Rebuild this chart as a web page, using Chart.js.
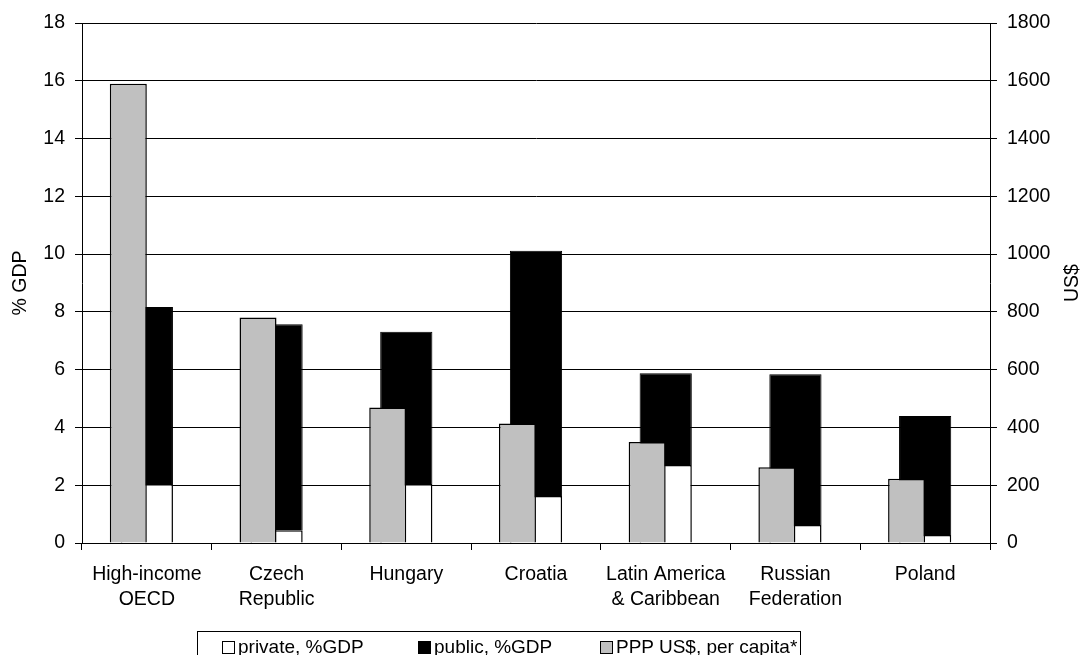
<!DOCTYPE html>
<html>
<head>
<meta charset="utf-8">
<title>Expenditure on health</title>
<script src="https://cdn.jsdelivr.net/npm/chart.js@4.4.0/dist/chart.umd.min.js"></script>
<style>
  html, body { margin: 0; padding: 0; background: #fff; overflow: hidden; }
  #wrap { position: relative; width: 1082px; height: 655px; }
  canvas { display: block; }
  #legend {
    position: absolute; left: 197px; top: 631px; width: 604px; height: 40px;
    border: 1px solid #000; box-sizing: border-box;
    font-family: "Liberation Sans", Arial, sans-serif; font-size: 19px; color: #000;
  }
  .item { position: absolute; top: 5px; height: 20px; line-height: 20px; display: flex; align-items: center; white-space: nowrap; }
  .sw { width: 11px; height: 11px; border: 1px solid #000; margin-right: 3px; }
</style>
</head>
<body>
<div id="wrap">
  <canvas id="chart" width="1082" height="655"></canvas>
  <div id="legend"></div>
</div>
<script>
// Categories (multi-line labels as arrays)
const categories = [
  ['High-income', 'OECD'],
  ['Czech', 'Republic'],
  'Hungary',
  'Croatia',
  ['Latin America', '& Caribbean'],
  ['Russian', 'Federation'],
  'Poland'
];

// Health expenditure, % of GDP
const privateGdp = [2.04, 0.44, 2.04, 1.63, 2.70, 0.62, 0.28];
const publicGdp  = [6.13, 7.13, 5.27, 8.49, 3.18, 5.22, 4.12];

// Health expenditure, PPP US$ per capita
const pppPerCapita = [1590, 781, 469, 414, 350, 262, 222];

// Axis ranges and tick steps
const gdpAxis = { min: 0, max: 18, step: 2 };
const usdAxis = { min: 0, max: 1800, step: 200 };

const FONT = "'Liberation Sans', Arial, sans-serif";
const FONT_SIZE = 19.5;
Chart.defaults.font.family = FONT;
Chart.defaults.font.size = FONT_SIZE;
Chart.defaults.color = '#000';

// The per-capita bars sit to the left of each category centre, on a hidden
// linear axis shifted by this fraction of a category.
const pppShift = 0.143;

// Right-hand axis title, reading bottom-to-top like the left one
const usdTitle = {
  id: 'usdTitle',
  afterDraw(chart) {
    const { ctx, chartArea } = chart;
    const s = chart.scales.y1;
    ctx.save();
    ctx.font = FONT_SIZE + 'px ' + FONT;
    ctx.fillStyle = '#000';
    ctx.translate(s.right - 9, (chartArea.top + chartArea.bottom) / 2);
    ctx.rotate(-Math.PI / 2);
    ctx.textAlign = 'center';
    ctx.textBaseline = 'middle';
    ctx.fillText('US$', 0, 0);
    ctx.restore();
  }
};

const datasets = [
  {
    label: 'private, %GDP',
    data: privateGdp,
    backgroundColor: '#ffffff',
    borderColor: '#000000',
    borderWidth: 1.5,
    xAxisID: 'x', yAxisID: 'y',
    stack: 'gdp', order: 1, grouped: false,
    categoryPercentage: 1, barPercentage: 0.4025
  },
  {
    label: 'public, %GDP',
    data: publicGdp,
    backgroundColor: '#000000',
    borderColor: '#000000',
    borderWidth: 1,
    xAxisID: 'x', yAxisID: 'y',
    stack: 'gdp', order: 1, grouped: false,
    categoryPercentage: 1, barPercentage: 0.4025
  },
  {
    label: 'PPP US$, per capita*',
    data: pppPerCapita.map((v, i) => ({ x: i, y: v })),
    backgroundColor: '#c0c0c0',
    borderColor: '#000000',
    borderWidth: 1.5,
    xAxisID: 'xp', yAxisID: 'y1',
    order: 0, grouped: false,
    categoryPercentage: 1, barPercentage: 0.2853
  }
];

const plainNumber = v => String(v);

new Chart(document.getElementById('chart'), {
  type: 'bar',
  data: { labels: categories, datasets },
  options: {
    responsive: false,
    animation: false,
    layout: { padding: { top: 23, left: 0, right: 0, bottom: 42 } },
    plugins: {
      legend: { display: false },
      tooltip: { enabled: false }
    },
    scales: {
      x: {
        type: 'category',
        stacked: true,
        offset: true,
        grid: { offset: true, drawOnChartArea: false, drawTicks: true, tickLength: 7, color: '#000' },
        border: { color: '#000' },
        ticks: { padding: 12, maxRotation: 0, autoSkip: false, font: { size: FONT_SIZE, lineHeight: 1.28 } },
        afterFit(s) { s.height = 70; }
      },
      xp: {
        type: 'linear',
        display: false,
        offset: false,
        grid: { offset: false },
        min: -0.5 + pppShift,
        max: categories.length - 0.5 + pppShift,
        // one tick per category so bar widths follow the category spacing
        afterBuildTicks(s) { s.ticks = categories.map((_, i) => ({ value: i })); }
      },
      y: {
        position: 'left',
        stacked: true,
        min: gdpAxis.min, max: gdpAxis.max,
        ticks: { stepSize: gdpAxis.step, padding: 10, callback: plainNumber },
        grid: { color: '#000', tickLength: 7 },
        border: { color: '#000' },
        title: { display: true, text: '% GDP', padding: { top: 9, bottom: 0 } },
        afterFit(s) { s.width = 82; }
      },
      y1: {
        position: 'right',
        min: usdAxis.min, max: usdAxis.max,
        ticks: { stepSize: usdAxis.step, padding: 10, callback: plainNumber },
        grid: { drawOnChartArea: false, color: '#000', tickLength: 7 },
        border: { color: '#000' },
        afterFit(s) { s.width = 92; }
      }
    }
  },
  plugins: [usdTitle]
});

// Legend: one entry per dataset, in dataset order
const legendOffsets = [24, 220, 402];
const legend = document.getElementById('legend');
datasets.forEach((ds, i) => {
  const item = document.createElement('div');
  item.className = 'item';
  item.style.left = legendOffsets[i] + 'px';
  const sw = document.createElement('span');
  sw.className = 'sw';
  sw.style.background = ds.backgroundColor;
  item.appendChild(sw);
  item.appendChild(document.createTextNode(ds.label));
  legend.appendChild(item);
});
</script>
</body>
</html>
